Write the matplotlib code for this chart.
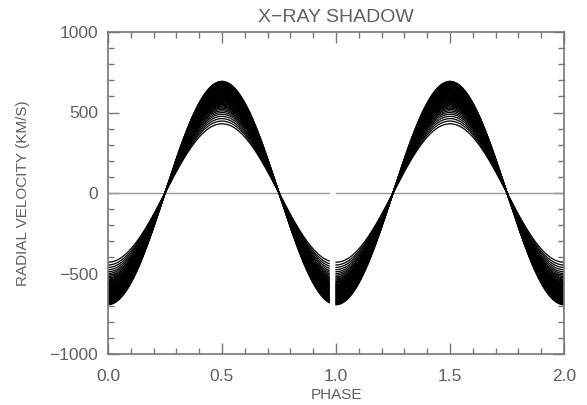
import numpy as np
import matplotlib
matplotlib.use("Agg")
import matplotlib.pyplot as plt
from matplotlib.ticker import MultipleLocator

# semi-amplitudes of the radial velocity curves (km/s)
amplitudes = [430, 447, 462, 476, 489, 500, 510, 519, 527, 534, 540, 546,
              551, 556, 561, 566, 570, 574, 578, 582, 586, 590, 594, 598,
              602, 606, 610, 614, 618, 622, 626, 630, 634, 638, 642, 646,
              650, 654, 658, 662, 666, 670, 674, 678, 682, 686, 690, 694]
# phase ranges of the two plotted cycles
segments = [(0.0, 0.97), (1.0, 2.0)]

txt = "#606060"
plt.rcParams['font.family'] = ['Liberation Sans', 'DejaVu Sans']

fig = plt.figure(figsize=(5.87, 4.05), dpi=100)
ax = fig.add_axes([108 / 587, 1 - 354 / 405, 456 / 587, 322 / 405])

for lo, hi in segments:
    ph = np.linspace(lo, hi, 300)
    ax.plot([lo, hi], [0, 0], color="#999999", lw=1.0)
    for k in amplitudes:
        ax.plot(ph, -k * np.cos(2 * np.pi * ph), color="black", lw=0.9)

ax.set_xlim(0, 2)
ax.set_ylim(-1000, 1000)
ax.xaxis.set_major_locator(MultipleLocator(0.5))
ax.xaxis.set_minor_locator(MultipleLocator(0.1))
ax.yaxis.set_major_locator(MultipleLocator(500))
ax.yaxis.set_minor_locator(MultipleLocator(100))
ax.xaxis.set_major_formatter(matplotlib.ticker.FormatStrFormatter("%.1f"))
ax.tick_params(which="both", direction="in", top=True, right=True,
               colors="#777777", labelcolor=txt, labelsize=12.5, width=1)
ax.tick_params(which="major", length=8)
ax.tick_params(axis="x", which="major", pad=11)
ax.tick_params(axis="y", which="major", pad=7)
ax.tick_params(which="minor", length=4)
for s in ax.spines.values():
    s.set_color("#777777")
    s.set_linewidth(1.2)

ax.set_title("X\u2212RAY SHADOW", color=txt, fontsize=14, pad=7)
ax.set_xlabel("PHASE", color=txt, fontsize=11, labelpad=3)
ax.set_ylabel("RADIAL VELOCITY (KM/S)", color=txt, fontsize=11, labelpad=14)

fig.savefig("out.png", dpi=100)
